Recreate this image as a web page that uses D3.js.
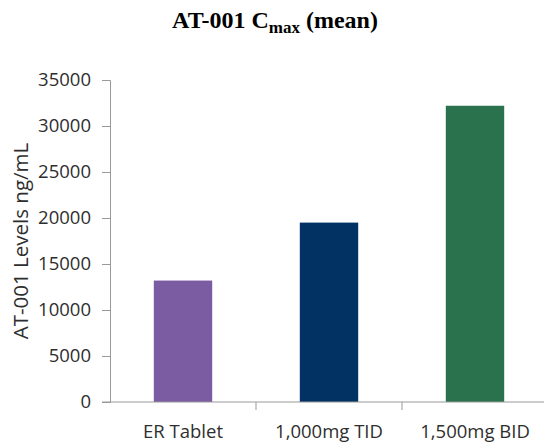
<!DOCTYPE html>
<html><head><meta charset="utf-8">
<script src="https://cdn.jsdelivr.net/npm/d3@7"></script>
<style>body{margin:0;background:#fff}svg{display:block}</style>
</head><body>
<script>
const categories = ["ER Tablet", "1,000mg TID", "1,500mg BID"];
const values = [13200, 19500, 32200];
const colors = ["#7b5ba1", "#013263", "#2a724e"];
const yTicks = [0, 5000, 10000, 15000, 20000, 25000, 30000, 35000];

const W = 544, H = 445;
const m = {left: 110, top: 80, right: -4, bottom: 43};
const svg = d3.select("body").append("svg").attr("width", W).attr("height", H);

const x = d3.scaleBand().domain(categories).range([m.left, W - m.right]).paddingInner(0.6).paddingOuter(0.3);
const y = d3.scaleLinear().domain([0, 35000]).range([H - m.bottom, m.top]);

const font = "'Open Sans', sans-serif";
const txt = "#2e2e2e";

// title
const t = svg.append("text").attr("x", 275).attr("y", 28).attr("text-anchor", "middle")
  .attr("font-family", "'Liberation Serif', serif").attr("font-weight", "bold").attr("font-size", 24).attr("fill", "#000");
t.append("tspan").text("AT-001 C");
t.append("tspan").attr("font-size", 17).attr("dy", 5).text("max");
t.append("tspan").attr("dy", -5).text(" (mean)");

// bars
svg.append("g").selectAll("rect").data(categories).join("rect")
  .attr("x", d => x(d)).attr("width", x.bandwidth())
  .attr("y", (d, i) => y(values[i])).attr("height", (d, i) => y(0) - y(values[i]))
  .attr("fill", (d, i) => colors[i]);

// y axis
const ya = svg.append("g").attr("transform", `translate(${m.left},0)`)
  .call(d3.axisLeft(y).tickValues(yTicks).tickFormat(d3.format("d")).tickSize(8).tickPadding(11));
ya.select(".domain").attr("stroke", "#999");
ya.selectAll(".tick line").attr("stroke", "#999");
ya.selectAll("text").attr("font-family", font).attr("font-size", 18.5).attr("fill", txt);

// x axis
const xa = svg.append("g").attr("transform", `translate(0,${y(0)})`)
  .call(d3.axisBottom(x).tickSize(0).tickPadding(23));
xa.select(".domain").remove();
xa.selectAll("text").attr("font-family", font).attr("font-size", 18.5).attr("fill", txt);
svg.append("line").attr("x1", m.left - 8).attr("x2", W).attr("y1", y(0)).attr("y2", y(0)).attr("stroke", "#999");
// category separator ticks
const step = x.step();
svg.append("g").selectAll("line").data(categories.slice(1)).join("line")
  .attr("x1", d => x(d) - step * 0.3).attr("x2", d => x(d) - step * 0.3)
  .attr("y1", y(0)).attr("y2", y(0) + 8).attr("stroke", "#999");

// y title
svg.append("text").attr("transform", `translate(28,241) rotate(-90)`).attr("text-anchor", "middle")
  .attr("font-family", font).attr("font-size", 20.5).attr("fill", txt).text("AT-001 Levels ng/mL");
</script>
</body></html>
